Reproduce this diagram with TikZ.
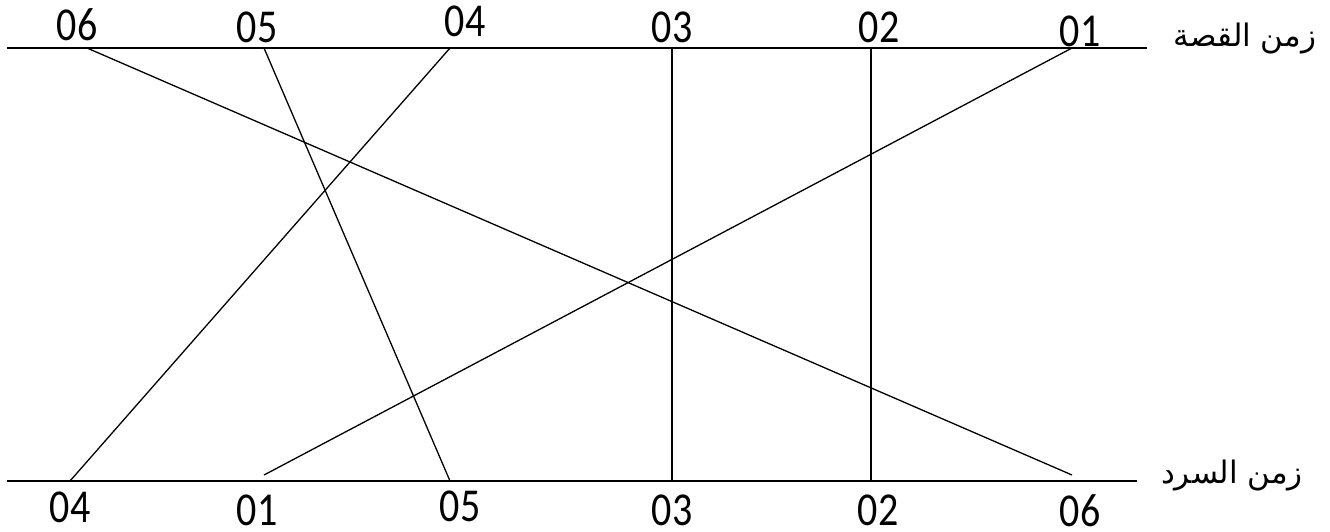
\documentclass[tikz,border=0pt]{standalone}
\usepackage{fontspec}
\setmainfont{Carlito}
\newfontfamily\arabicfont[Script=Arabic]{DejaVu Sans}
\TeXXeTstate=1
\newcommand{\tallnum}[1]{\scalebox{1}[1.18]{#1}}
\begin{document}
\begin{tikzpicture}[x=1pt,y=-1pt,
  axis/.style={line width=1.8pt},
  link/.style={line width=1.3pt},
  num/.style={inner sep=0pt,font=\fontsize{40}{40}\selectfont},
  axlabel/.style={inner sep=0pt,font=\arabicfont\fontsize{31}{31}\selectfont}]
\useasboundingbox (0,0) rectangle (1330,531);
% axes
\coordinate (tL) at (7,48);
\coordinate (tR) at (1147,48);
\coordinate (bL) at (7,481);
\coordinate (bR) at (1137,481);
\draw[axis] (tL) -- (tR);
\draw[axis] (bL) -- (bR);
\node[axlabel] (story) at (1245,39) {\beginR زمن القصة\endR};
\node[axlabel] (narr) at (1232,475) {\beginR زمن السرد\endR};
% top endpoints
\coordinate (t6) at (87,48);
\coordinate (t5) at (264,48);
\coordinate (t4) at (450,48);
\coordinate (t3) at (672,48);
\coordinate (t2) at (871,48);
\coordinate (t1) at (1072,48);
% bottom endpoints
\coordinate (b4) at (70,481);
\coordinate (b1) at (264,475);
\coordinate (b5) at (450,481);
\coordinate (b3) at (672,481);
\coordinate (b2) at (871,481);
\coordinate (b6) at (1072,475);
% top labels
\node[num] (lt6) at (77,25) {\tallnum{06}};
\node[num] (lt5) at (257,27) {\tallnum{05}};
\node[num] (lt4) at (465,21) {\tallnum{04}};
\node[num] (lt3) at (672,27) {\tallnum{03}};
\node[num] (lt2) at (879,27) {\tallnum{02}};
\node[num] (lt1) at (1080,31) {\tallnum{01}};
% bottom labels
\node[num] (lb4) at (70,507) {\tallnum{04}};
\node[num] (lb1) at (257,510) {\tallnum{01}};
\node[num] (lb5) at (460,506) {\tallnum{05}};
\node[num] (lb3) at (672,510) {\tallnum{03}};
\node[num] (lb2) at (878,510) {\tallnum{02}};
\node[num] (lb6) at (1080,511) {\tallnum{06}};
% links
\draw[link] (t6) -- (b6);
\draw[link] (t5) -- (b5);
\draw[link] (t4) -- (b4);
\draw[link] (t3) -- (b3);
\draw[link] (t2) -- (b2);
\draw[link] (t1) -- (b1);
\end{tikzpicture}
\end{document}
